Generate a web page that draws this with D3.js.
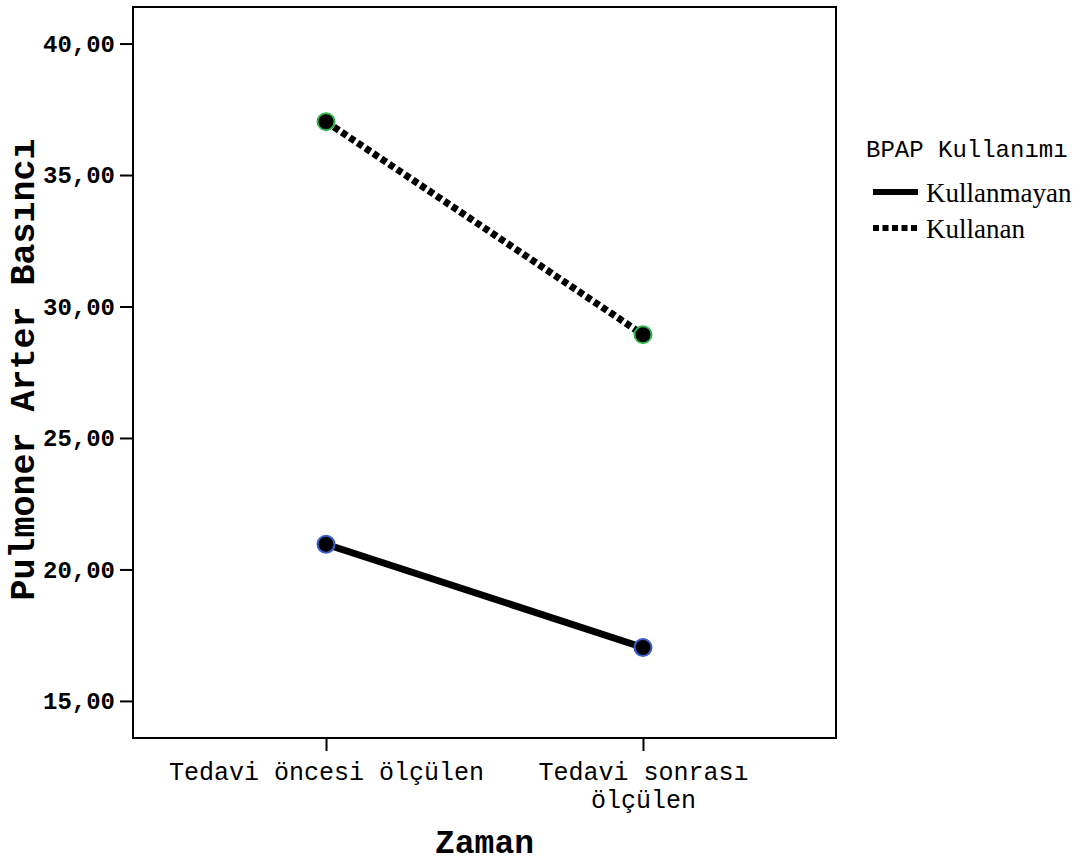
<!DOCTYPE html>
<html>
<head>
<meta charset="utf-8">
<script src="https://cdn.jsdelivr.net/npm/d3@7"></script>
<style>
  body { margin: 0; background: #fff; }
  .axis text { font-family: "Courier New", "Liberation Mono", monospace; fill: #000; }
  .axis line { stroke: #000; stroke-width: 2; }
</style>
</head>
<body>
<svg id="chart" width="1085" height="862"></svg>
<script>
const categories = ['Tedavi öncesi ölçülen', 'Tedavi sonrası\nölçülen'];
const groups = ['Kullanmayan', 'Kullanan'];
const kullanmayan = [20.96, 17.03];
const kullanan = [37.03, 28.93];
const yTicks = [15, 20, 25, 30, 35, 40];

const
  PLOT_LEFT = 133,
  PLOT_RIGHT = 836,
  PLOT_TOP = 7,
  PLOT_BOTTOM = 738,
  TICK_SIZE = 13;

const series = [
  { name: groups[0], values: kullanmayan, dash: null, ring: '#3a5fcd' },
  { name: groups[1], values: kullanan, dash: '6,3.5', ring: '#2db84a' }
];

const svg = d3.select('#chart');

const xScale = d3.scalePoint()
  .domain(categories)
  .range([PLOT_LEFT, PLOT_RIGHT])
  .padding(0.609);

const yScale = d3.scaleLinear()
  .domain([13.59, 41.39])
  .range([PLOT_BOTTOM, PLOT_TOP]);

// y axis
const yAxis = d3.axisLeft(yScale)
  .tickValues(yTicks)
  .tickFormat(d => d3.format('.2f')(d).replace('.', ','))
  .tickSize(TICK_SIZE)
  .tickPadding(5);

const yAxisGroup = svg.append('g')
  .attr('class', 'axis axis-y')
  .attr('transform', `translate(${PLOT_LEFT},0)`)
  .call(yAxis);
yAxisGroup.select('.domain').remove();
yAxisGroup.selectAll('text')
  .style('font-size', '24px')
  .style('font-weight', 'bold');

// x axis
const xAxis = d3.axisBottom(xScale)
  .tickSize(TICK_SIZE)
  .tickFormat('');

const xAxisGroup = svg.append('g')
  .attr('class', 'axis axis-x')
  .attr('transform', `translate(0,${PLOT_BOTTOM})`)
  .call(xAxis);
xAxisGroup.select('.domain').remove();
xAxisGroup.selectAll('.tick').each(function (d) {
  const tick = d3.select(this);
  // one text per line so the wrapped label stays two separate rows
  d.split('\n').forEach((line, i) => {
    tick.append('text')
      .attr('text-anchor', 'middle')
      .attr('x', 0)
      .attr('y', 42 + i * 28)
      .style('font-size', '25px')
      .text(line);
  });
});

// frame
svg.append('rect')
  .attr('x', PLOT_LEFT)
  .attr('y', PLOT_TOP)
  .attr('width', PLOT_RIGHT - PLOT_LEFT)
  .attr('height', PLOT_BOTTOM - PLOT_TOP)
  .attr('fill', 'none')
  .attr('stroke', '#000')
  .attr('stroke-width', 2);

// axis titles
svg.append('text')
  .attr('transform', `translate(34,${(PLOT_TOP + PLOT_BOTTOM) / 2 - 3}) rotate(-90)`)
  .attr('text-anchor', 'middle')
  .style('font-family', '"Courier New", "Liberation Mono", monospace')
  .style('font-weight', 'bold')
  .style('font-size', '35px')
  .text('Pulmoner Arter Basıncı');

svg.append('text')
  .attr('x', (PLOT_LEFT + PLOT_RIGHT) / 2)
  .attr('y', 853)
  .attr('text-anchor', 'middle')
  .style('font-family', '"Courier New", "Liberation Mono", monospace')
  .style('font-weight', 'bold')
  .style('font-size', '33px')
  .text('Zaman');

// lines and markers
const line = d3.line()
  .x((d, i) => xScale(categories[i]))
  .y(d => yScale(d));

const seriesGroup = svg.append('g').attr('class', 'series');

series.forEach(s => {
  seriesGroup.append('path')
    .datum(s.values)
    .attr('d', line)
    .attr('fill', 'none')
    .attr('stroke', '#000')
    .attr('stroke-width', 7)
    .attr('stroke-dasharray', s.dash);
});

series.forEach(s => {
  seriesGroup.selectAll(null)
    .data(s.values)
    .enter()
    .append('circle')
    .attr('cx', (d, i) => xScale(categories[i]))
    .attr('cy', d => yScale(d))
    .attr('r', 8.5)
    .attr('fill', '#000')
    .attr('stroke', s.ring)
    .attr('stroke-width', 2);
});

// legend
const legend = svg.append('g')
  .attr('class', 'legend')
  .attr('transform', 'translate(866,0)');

legend.append('text')
  .attr('x', 0)
  .attr('y', 157)
  .style('font-family', '"Courier New", "Liberation Mono", monospace')
  .style('font-size', '24px')
  .text('BPAP Kullanımı');

const legendItems = legend.selectAll('.legend-item')
  .data(series)
  .enter()
  .append('g')
  .attr('class', 'legend-item')
  .attr('transform', (d, i) => `translate(0,${192 + i * 36})`);

legendItems.append('line')
  .attr('x1', 7)
  .attr('x2', 52)
  .attr('y1', 0)
  .attr('y2', 0)
  .attr('stroke', '#000')
  .attr('stroke-width', 6)
  .attr('stroke-dasharray', d => d.dash);

legendItems.append('text')
  .attr('x', 60)
  .attr('y', 10)
  .style('font-family', '"Times New Roman", "Liberation Serif", serif')
  .style('font-size', '27px')
  .text(d => d.name);
</script>
</body>
</html>
